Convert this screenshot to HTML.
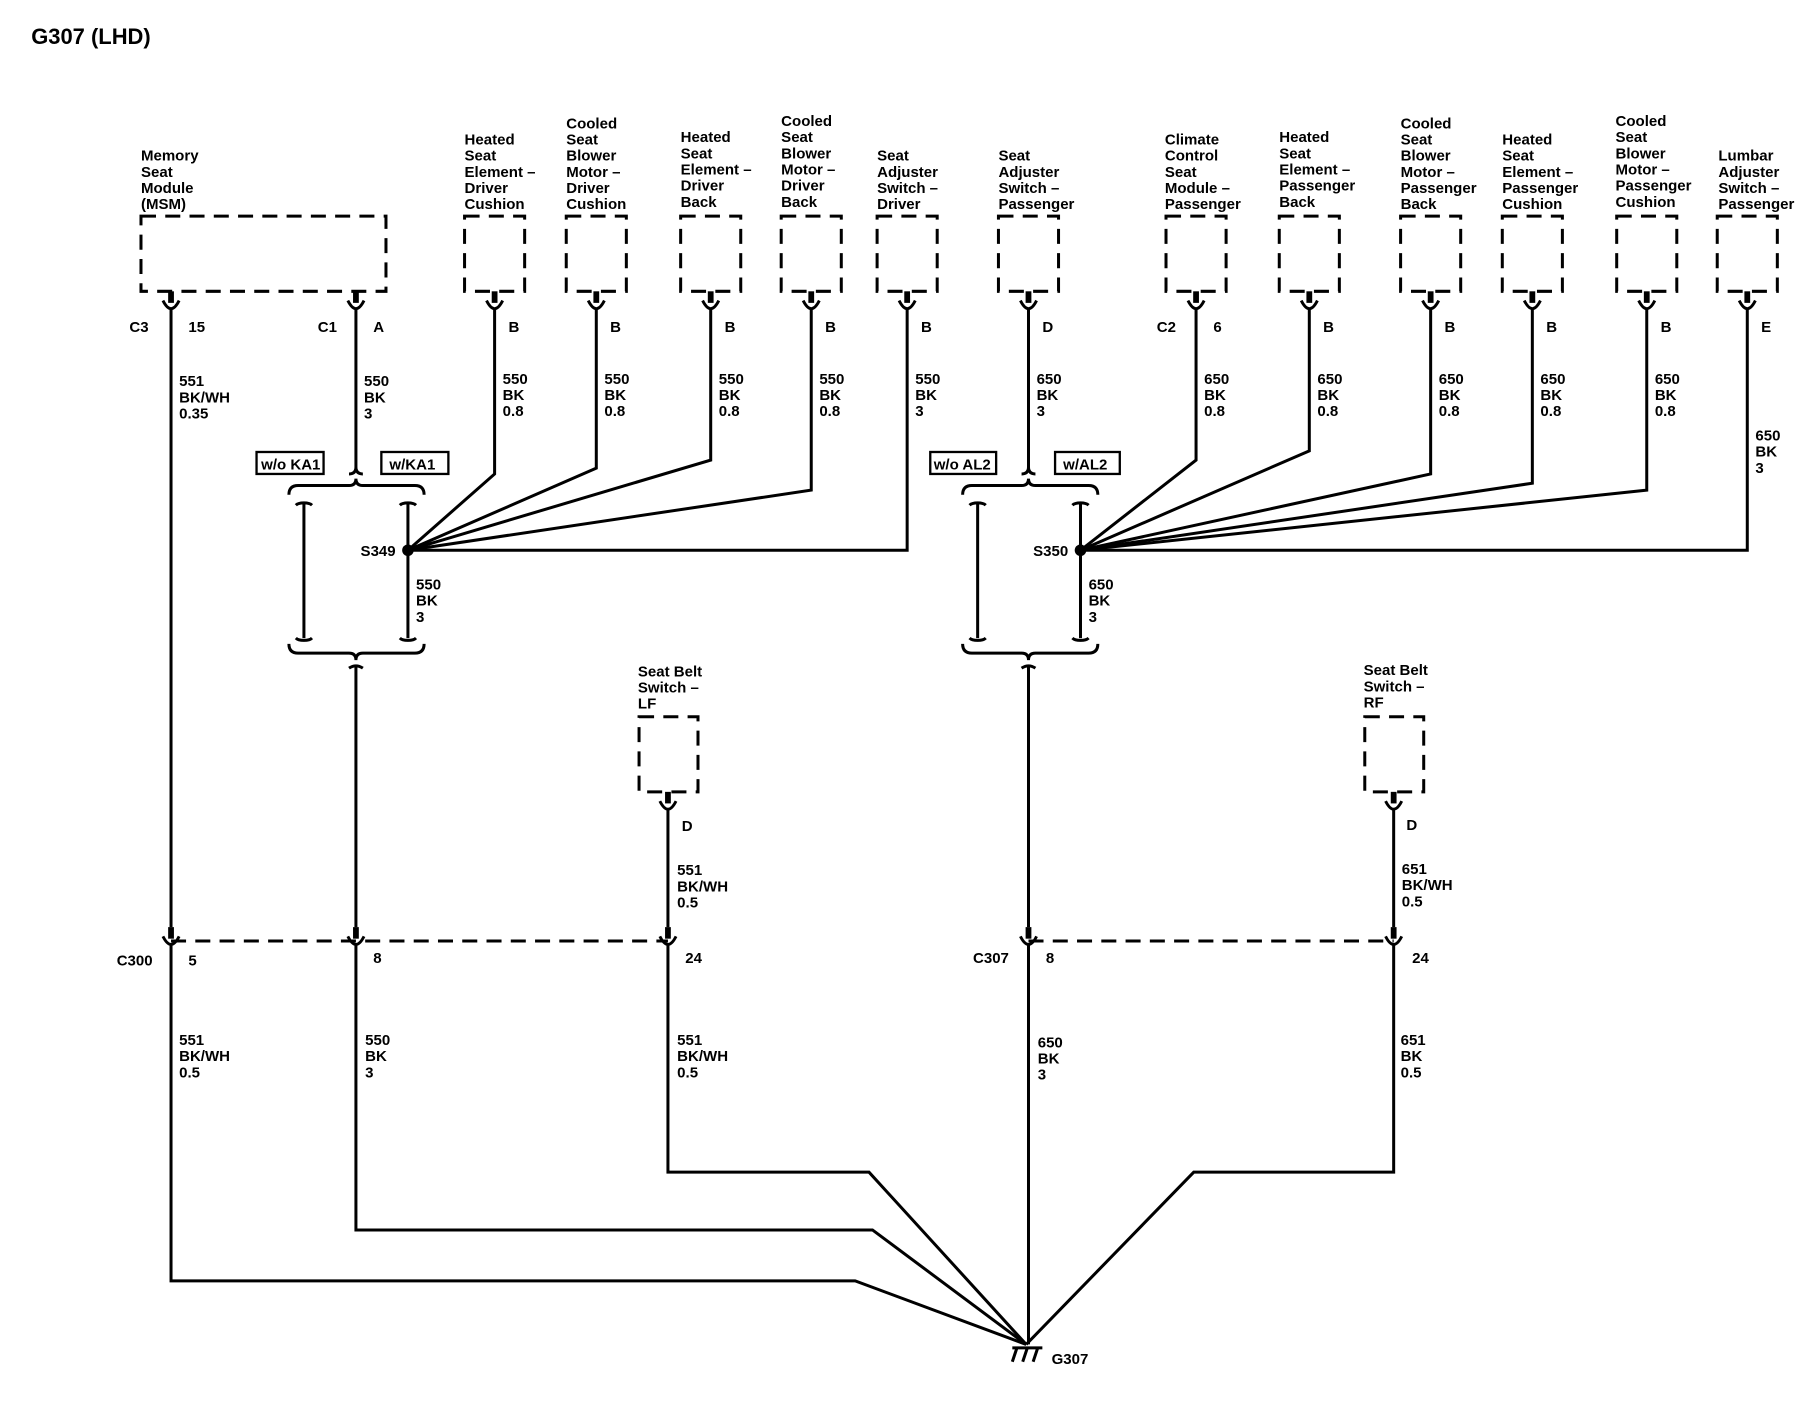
<!DOCTYPE html>
<html><head><meta charset="utf-8"><style>
html,body{margin:0;padding:0;background:#fff;}
svg{display:block;}
text{font-family:"Liberation Sans",sans-serif;font-size:13px;font-weight:bold;fill:#000;}
.t{font-size:19px;}
</style></head><body>
<svg width="1812" height="1408" viewBox="0 0 1568 1218" preserveAspectRatio="none" xmlns="http://www.w3.org/2000/svg">
<defs>
<g id="cn"><rect x="-2.5" y="0" width="5" height="10" fill="#000"/><path d="M-7 8 Q0 22 7 8" fill="none" stroke="#000" stroke-width="2.5"/></g>
</defs>
<text class="t" x="27" y="38">G307 (LHD)</text>
<g fill="none" stroke="#000" stroke-width="2.6" stroke-dasharray="13 8">
<rect x="122" y="187" width="212" height="65"/>
<rect x="402" y="187" width="52" height="65"/>
<rect x="490" y="187" width="52" height="65"/>
<rect x="589" y="187" width="52" height="65"/>
<rect x="676" y="187" width="52" height="65"/>
<rect x="759" y="187" width="52" height="65"/>
<rect x="864" y="187" width="52" height="65"/>
<rect x="1009" y="187" width="52" height="65"/>
<rect x="1107" y="187" width="52" height="65"/>
<rect x="1212" y="187" width="52" height="65"/>
<rect x="1300" y="187" width="52" height="65"/>
<rect x="1399" y="187" width="52" height="65"/>
<rect x="1486" y="187" width="52" height="65"/>
<rect x="553" y="620" width="51" height="65"/>
<rect x="1181" y="620" width="51" height="65"/>
<path d="M148 814 H578 M890 814 H1206"/>
</g>
<g>
<use href="#cn" x="148" y="252"/><use href="#cn" x="308" y="252"/>
<use href="#cn" x="428" y="252"/><use href="#cn" x="516" y="252"/><use href="#cn" x="615" y="252"/>
<use href="#cn" x="702" y="252"/><use href="#cn" x="785" y="252"/><use href="#cn" x="890" y="252"/>
<use href="#cn" x="1035" y="252"/><use href="#cn" x="1133" y="252"/><use href="#cn" x="1238" y="252"/>
<use href="#cn" x="1326" y="252"/><use href="#cn" x="1425" y="252"/><use href="#cn" x="1512" y="252"/>
<use href="#cn" x="578" y="685"/><use href="#cn" x="1206" y="685"/>
<use href="#cn" x="148" y="802"/><use href="#cn" x="308" y="802"/><use href="#cn" x="578" y="802"/>
<use href="#cn" x="890" y="802"/><use href="#cn" x="1206" y="802"/>
</g>
<g fill="none" stroke="#000" stroke-width="2.6">
<path d="M148 266 V802"/>
<path d="M308 266 V404 Q308 410 302 410 M308 404 Q308 410 314 410"/>
<path d="M250 428 Q250 420 258 420 H302 Q308 420 308 414 Q308 420 314 420 H359 Q367 420 367 428"/>
<path d="M263 435 V552 M256 437 Q258 435 263 435 Q268 435 270 437 M256 552 Q258 554 263 554 Q268 554 270 552"/>
<path d="M353 435 V552 M346 437 Q348 435 353 435 Q358 435 360 437 M346 552 Q348 554 353 554 Q358 554 360 552"/>
<path d="M250 557 Q250 565 258 565 H302 Q308 565 308 571 Q308 565 314 565 H359 Q367 565 367 557"/>
<path d="M302 578 Q308 574 314 578 M308 576 V802"/>
<path d="M428 266 V410 L353 476"/>
<path d="M516 266 V405 L353 476"/>
<path d="M615 266 V398 L353 476"/>
<path d="M702 266 V424 L353 476"/>
<path d="M785 266 V476 H353"/>
<path d="M890 266 V404 Q890 410 884 410 M890 404 Q890 410 896 410"/>
<path d="M833 428 Q833 420 841 420 H884 Q890 420 890 414 Q890 420 896 420 H942 Q950 420 950 428"/>
<path d="M846 435 V552 M839 437 Q841 435 846 435 Q851 435 853 437 M839 552 Q841 554 846 554 Q851 554 853 552"/>
<path d="M935 435 V552 M928 437 Q930 435 935 435 Q940 435 942 437 M928 552 Q930 554 935 554 Q940 554 942 552"/>
<path d="M833 557 Q833 565 841 565 H884 Q890 565 890 571 Q890 565 896 565 H942 Q950 565 950 557"/>
<path d="M884 578 Q890 574 896 578 M890 576 V802"/>
<path d="M1035 266 V398 L935 476"/>
<path d="M1133 266 V390 L935 476"/>
<path d="M1238 266 V410 L935 476"/>
<path d="M1326 266 V418 L935 476"/>
<path d="M1425 266 V424 L935 476"/>
<path d="M1512 266 V476 H935"/>
<path d="M578 699 V802 M1206 699 V802"/>
<path d="M148 816 V1108 H740 L888 1163"/>
<path d="M308 816 V1064 H755 L888 1163"/>
<path d="M578 816 V1014 H752 L888 1163"/>
<path d="M890 816 V1163"/>
<path d="M1206 816 V1014 H1033 L888 1163"/>
<path d="M876 1166 H902 M880 1166 L876 1178 M889 1166 L885 1178 M898 1166 L894 1178"/>
</g>
<circle cx="353" cy="476" r="5" fill="#000"/>
<circle cx="935" cy="476" r="5" fill="#000"/>
<g fill="none" stroke="#000" stroke-width="2">
<rect x="222" y="391" width="58" height="19"/><rect x="330" y="391" width="58" height="19"/>
<rect x="805" y="391" width="57" height="19"/><rect x="913" y="391" width="56" height="19"/>
</g>
<text x="226" y="406">w/o KA1</text><text x="337" y="406">w/KA1</text>
<text x="808" y="406">w/o AL2</text><text x="920" y="406">w/AL2</text>
<text x="312" y="481">S349</text><text x="894" y="481">S350</text>
<text x="360" y="510"><tspan x="360">550</tspan><tspan x="360" dy="14">BK</tspan><tspan x="360" dy="14">3</tspan></text>
<text x="942" y="510"><tspan x="942">650</tspan><tspan x="942" dy="14">BK</tspan><tspan x="942" dy="14">3</tspan></text>
<text><tspan x="122" y="139">Memory</tspan><tspan x="122" dy="14">Seat</tspan><tspan x="122" dy="14">Module</tspan><tspan x="122" dy="14">(MSM)</tspan></text>
<text><tspan x="402" y="125">Heated</tspan><tspan x="402" dy="14">Seat</tspan><tspan x="402" dy="14">Element –</tspan><tspan x="402" dy="14">Driver</tspan><tspan x="402" dy="14">Cushion</tspan></text>
<text><tspan x="490" y="111">Cooled</tspan><tspan x="490" dy="14">Seat</tspan><tspan x="490" dy="14">Blower</tspan><tspan x="490" dy="14">Motor –</tspan><tspan x="490" dy="14">Driver</tspan><tspan x="490" dy="14">Cushion</tspan></text>
<text><tspan x="589" y="123">Heated</tspan><tspan x="589" dy="14">Seat</tspan><tspan x="589" dy="14">Element –</tspan><tspan x="589" dy="14">Driver</tspan><tspan x="589" dy="14">Back</tspan></text>
<text><tspan x="676" y="109">Cooled</tspan><tspan x="676" dy="14">Seat</tspan><tspan x="676" dy="14">Blower</tspan><tspan x="676" dy="14">Motor –</tspan><tspan x="676" dy="14">Driver</tspan><tspan x="676" dy="14">Back</tspan></text>
<text><tspan x="759" y="139">Seat</tspan><tspan x="759" dy="14">Adjuster</tspan><tspan x="759" dy="14">Switch –</tspan><tspan x="759" dy="14">Driver</tspan></text>
<text><tspan x="864" y="139">Seat</tspan><tspan x="864" dy="14">Adjuster</tspan><tspan x="864" dy="14">Switch –</tspan><tspan x="864" dy="14">Passenger</tspan></text>
<text><tspan x="1008" y="125">Climate</tspan><tspan x="1008" dy="14">Control</tspan><tspan x="1008" dy="14">Seat</tspan><tspan x="1008" dy="14">Module –</tspan><tspan x="1008" dy="14">Passenger</tspan></text>
<text><tspan x="1107" y="123">Heated</tspan><tspan x="1107" dy="14">Seat</tspan><tspan x="1107" dy="14">Element –</tspan><tspan x="1107" dy="14">Passenger</tspan><tspan x="1107" dy="14">Back</tspan></text>
<text><tspan x="1212" y="111">Cooled</tspan><tspan x="1212" dy="14">Seat</tspan><tspan x="1212" dy="14">Blower</tspan><tspan x="1212" dy="14">Motor –</tspan><tspan x="1212" dy="14">Passenger</tspan><tspan x="1212" dy="14">Back</tspan></text>
<text><tspan x="1300" y="125">Heated</tspan><tspan x="1300" dy="14">Seat</tspan><tspan x="1300" dy="14">Element –</tspan><tspan x="1300" dy="14">Passenger</tspan><tspan x="1300" dy="14">Cushion</tspan></text>
<text><tspan x="1398" y="109">Cooled</tspan><tspan x="1398" dy="14">Seat</tspan><tspan x="1398" dy="14">Blower</tspan><tspan x="1398" dy="14">Motor –</tspan><tspan x="1398" dy="14">Passenger</tspan><tspan x="1398" dy="14">Cushion</tspan></text>
<text><tspan x="1487" y="139">Lumbar</tspan><tspan x="1487" dy="14">Adjuster</tspan><tspan x="1487" dy="14">Switch –</tspan><tspan x="1487" dy="14">Passenger</tspan></text>
<text><tspan x="552" y="585">Seat Belt</tspan><tspan x="552" dy="14">Switch –</tspan><tspan x="552" dy="14">LF</tspan></text>
<text><tspan x="1180" y="584">Seat Belt</tspan><tspan x="1180" dy="14">Switch –</tspan><tspan x="1180" dy="14">RF</tspan></text>
<text x="112" y="287">C3</text><text x="163" y="287">15</text>
<text x="275" y="287">C1</text><text x="323" y="287">A</text>
<text x="440" y="287">B</text><text x="528" y="287">B</text><text x="627" y="287">B</text><text x="714" y="287">B</text><text x="797" y="287">B</text>
<text x="902" y="287">D</text><text x="1001" y="287">C2</text><text x="1050" y="287">6</text>
<text x="1145" y="287">B</text><text x="1250" y="287">B</text><text x="1338" y="287">B</text><text x="1437" y="287">B</text><text x="1524" y="287">E</text>
<text x="590" y="719">D</text><text x="1217" y="718">D</text>
<text x="101" y="835">C300</text><text x="163" y="835">5</text><text x="323" y="833">8</text><text x="593" y="833">24</text>
<text x="842" y="833">C307</text><text x="905" y="833">8</text><text x="1222" y="833">24</text>
<text x="910" y="1180">G307</text>
<text><tspan x="155" y="334">551</tspan><tspan x="155" dy="14">BK/WH</tspan><tspan x="155" dy="14">0.35</tspan></text>
<text><tspan x="315" y="334">550</tspan><tspan x="315" dy="14">BK</tspan><tspan x="315" dy="14">3</tspan></text>
<text><tspan x="435" y="332">550</tspan><tspan x="435" dy="14">BK</tspan><tspan x="435" dy="14">0.8</tspan></text>
<text><tspan x="523" y="332">550</tspan><tspan x="523" dy="14">BK</tspan><tspan x="523" dy="14">0.8</tspan></text>
<text><tspan x="622" y="332">550</tspan><tspan x="622" dy="14">BK</tspan><tspan x="622" dy="14">0.8</tspan></text>
<text><tspan x="709" y="332">550</tspan><tspan x="709" dy="14">BK</tspan><tspan x="709" dy="14">0.8</tspan></text>
<text><tspan x="792" y="332">550</tspan><tspan x="792" dy="14">BK</tspan><tspan x="792" dy="14">3</tspan></text>
<text><tspan x="897" y="332">650</tspan><tspan x="897" dy="14">BK</tspan><tspan x="897" dy="14">3</tspan></text>
<text><tspan x="1042" y="332">650</tspan><tspan x="1042" dy="14">BK</tspan><tspan x="1042" dy="14">0.8</tspan></text>
<text><tspan x="1140" y="332">650</tspan><tspan x="1140" dy="14">BK</tspan><tspan x="1140" dy="14">0.8</tspan></text>
<text><tspan x="1245" y="332">650</tspan><tspan x="1245" dy="14">BK</tspan><tspan x="1245" dy="14">0.8</tspan></text>
<text><tspan x="1333" y="332">650</tspan><tspan x="1333" dy="14">BK</tspan><tspan x="1333" dy="14">0.8</tspan></text>
<text><tspan x="1432" y="332">650</tspan><tspan x="1432" dy="14">BK</tspan><tspan x="1432" dy="14">0.8</tspan></text>
<text><tspan x="1519" y="381">650</tspan><tspan x="1519" dy="14">BK</tspan><tspan x="1519" dy="14">3</tspan></text>
<text><tspan x="586" y="757">551</tspan><tspan x="586" dy="14">BK/WH</tspan><tspan x="586" dy="14">0.5</tspan></text>
<text><tspan x="1213" y="756">651</tspan><tspan x="1213" dy="14">BK/WH</tspan><tspan x="1213" dy="14">0.5</tspan></text>
<text><tspan x="155" y="904">551</tspan><tspan x="155" dy="14">BK/WH</tspan><tspan x="155" dy="14">0.5</tspan></text>
<text><tspan x="316" y="904">550</tspan><tspan x="316" dy="14">BK</tspan><tspan x="316" dy="14">3</tspan></text>
<text><tspan x="586" y="904">551</tspan><tspan x="586" dy="14">BK/WH</tspan><tspan x="586" dy="14">0.5</tspan></text>
<text><tspan x="898" y="906">650</tspan><tspan x="898" dy="14">BK</tspan><tspan x="898" dy="14">3</tspan></text>
<text><tspan x="1212" y="904">651</tspan><tspan x="1212" dy="14">BK</tspan><tspan x="1212" dy="14">0.5</tspan></text>
</svg>
</body></html>
